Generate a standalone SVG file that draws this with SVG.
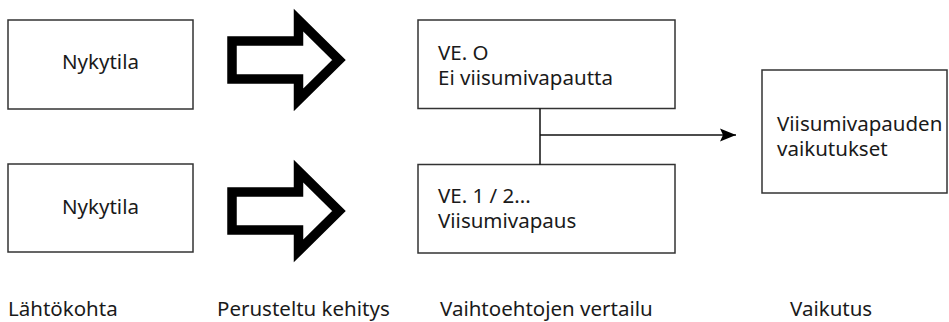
<svg xmlns="http://www.w3.org/2000/svg" width="949" height="322" viewBox="0 0 949 322">
<style>
.box{fill:#fff;stroke:#333;stroke-width:1.5}
.t{font-family:"Noto Sans","Open Sans",sans-serif;font-size:20.5px;fill:#1a1a1a}
.big{fill:#fff;stroke:#000;stroke-width:9.5;stroke-linejoin:miter}
.con{fill:none;stroke:#111;stroke-width:1.5}
</style>
<defs>
<marker id="ah" markerWidth="16" markerHeight="14" refX="16" refY="7" orient="auto" markerUnits="userSpaceOnUse">
<path d="M0,0.5 L16,7 L0,13.5 L3,7 Z" fill="#000"/>
</marker>
<polygon id="bigArrow" points="232,41 298.5,41 298.5,20 339,60 298.5,100 298.5,79 232,79"/>
</defs>
<rect width="949" height="322" fill="#fff"/>
<g id="nykytila1">
<rect class="box" x="8" y="20" width="185" height="89"/>
<text class="t" x="100.5" y="69" text-anchor="middle">Nykytila</text>
</g>
<g id="nykytila2">
<rect class="box" x="8" y="164" width="185" height="88"/>
<text class="t" x="100.5" y="214" text-anchor="middle">Nykytila</text>
</g>
<g id="arrow1">
<use href="#bigArrow" class="big"/>
</g>
<g id="arrow2">
<use href="#bigArrow" class="big" transform="translate(0,151)"/>
</g>
<g id="ve0">
<rect class="box" x="418" y="20" width="257" height="88.5"/>
<text class="t" x="438" y="60"><tspan x="438" y="60">VE. O</tspan><tspan x="438" y="85">Ei viisumivapautta</tspan></text>
</g>
<g id="ve1">
<rect class="box" x="418" y="164.5" width="257" height="88.5"/>
<text class="t" x="438" y="203"><tspan x="438" y="203">VE. 1 / 2...</tspan><tspan x="438" y="228">Viisumivapaus</tspan></text>
</g>
<g id="vaikutukset">
<rect class="box" x="762" y="70" width="185" height="123"/>
<text class="t" x="777" y="131"><tspan x="777" y="131">Viisumivapauden</tspan><tspan x="777" y="156">vaikutukset</tspan></text>
</g>
<g id="connectors">
<line class="con" x1="540" y1="108.5" x2="540" y2="164.5"/>
<line class="con" x1="540" y1="135" x2="736" y2="135" marker-end="url(#ah)"/>
</g>
<g id="labels">
<text class="t" x="8" y="316">Lähtökohta</text>
<text class="t" x="217" y="316">Perusteltu kehitys</text>
<text class="t" x="440" y="316">Vaihtoehtojen vertailu</text>
<text class="t" x="790" y="316">Vaikutus</text>
</g>
</svg>
